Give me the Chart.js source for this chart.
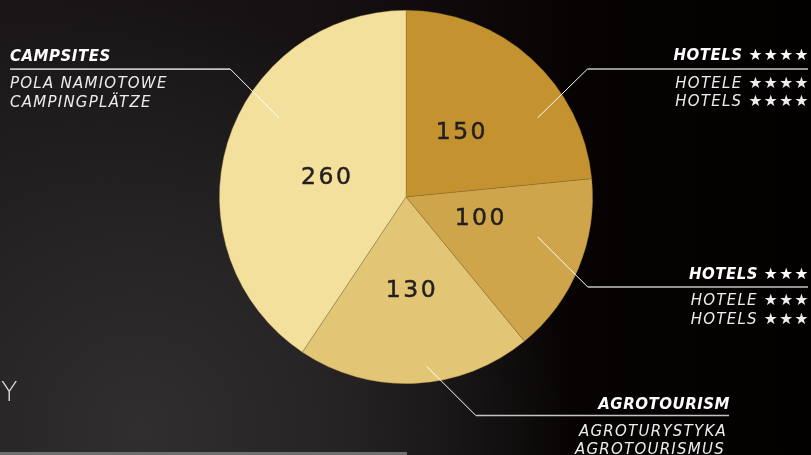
<!DOCTYPE html>
<html><head><meta charset="utf-8">
<script src="https://cdn.jsdelivr.net/npm/chart.js@4.4.0/dist/chart.umd.min.js"></script>
<style>
html,body{margin:0;padding:0;width:811px;height:455px;overflow:hidden;}
body{background:
 radial-gradient(circle at 140px 430px, #302e2f 0px, #272526 170px, rgba(24,20,21,0) 430px),
 linear-gradient(90deg, #1b1718 0%, #151112 40%, #070303 72%, #030000 100%);
 font-family:"DejaVu Sans",sans-serif;}
#wrap{position:relative;width:811px;height:455px;}
canvas{position:absolute;left:0;top:0;}
.lbl{position:absolute;color:#ffffff;font-style:italic;white-space:nowrap;line-height:18px;}
.b{font-weight:bold;font-size:15px;letter-spacing:0.5px;}
.s{font-size:15px;letter-spacing:1.25px;font-weight:normal;color:#ececec;}
.st{font-style:normal;font-size:15.5px;letter-spacing:1.5px;}
.val{position:absolute;color:#231f20;font-size:23.5px;letter-spacing:2.5px;transform:translate(-50%,-50%);white-space:nowrap;-webkit-text-stroke:0.5px #231f20;}
#y{position:absolute;left:1px;top:376px;color:#dcdcdc;font-size:27px;font-weight:200;}
#bl{position:absolute;left:0;top:452px;width:407px;height:3px;background:#6e6e6e;}
</style></head>
<body><div id="wrap">
<canvas id="c" width="811" height="455"></canvas>
<div id="y">Y</div>
<div id="bl"></div>
<div class="lbl b" style="left:10px;top:47px;">CAMPSITES</div>
<div class="lbl s" style="left:10px;top:74px;">POLA NAMIOTOWE</div>
<div class="lbl s" style="left:10px;top:93px;">CAMPINGPLÄTZE</div>

<div class="lbl b" style="right:1px;top:46px;">HOTELS <span class="st">★★★★</span></div>
<div class="lbl s" style="right:1px;top:74px;">HOTELE <span class="st">★★★★</span></div>
<div class="lbl s" style="right:1px;top:92px;">HOTELS <span class="st">★★★★</span></div>

<div class="lbl b" style="right:1px;top:265px;">HOTELS <span class="st">★★★</span></div>
<div class="lbl s" style="right:1px;top:291px;">HOTELE <span class="st">★★★</span></div>
<div class="lbl s" style="right:1px;top:310px;">HOTELS <span class="st">★★★</span></div>

<div class="lbl b" style="right:81px;top:395px;">AGROTOURISM</div>
<div class="lbl s" style="right:84px;top:422px;">AGROTURYSTYKA</div>
<div class="lbl s" style="right:86px;top:440px;">AGROTOURISMUS</div>
</div>
<script>
const categories = ["HOTELS ★★★★", "HOTELS ★★★", "AGROTOURISM", "CAMPSITES"];
const values = [150, 100, 130, 260];
const colors = ["#c4922f", "#cea54b", "#e2c676", "#f4e09d"];
// value label placement: angle (deg from top, clockwise) and radius fraction
const labelAngles = [40.3, 104.9, 176.3, 284.9];
const labelFracs = [0.463, 0.415, 0.493, 0.437];
// leader lines: anchor angle, radius fraction, elbow offset, end x
const leaderAngles = [59, 106.9, 173, 301.9];
const leaderFracs = [0.822, 0.738, 0.915, 0.80];
const leaderDx = [50, 50, 49, -49];
const leaderDy = [-49, 50, 49, -49];
const leaderEndX = [808, 808, 729, 10];

const overlay = {
  id: 'overlay',
  afterDatasetsDraw(chart) {
    const ctx = chart.ctx;
    const meta = chart.getDatasetMeta(0);
    const wrap = document.getElementById('wrap');
    meta.data.forEach((arc, i) => {
      const p = arc.getProps(['x','y','startAngle','endAngle','outerRadius'], true);
      const la = (labelAngles[i] - 90) * Math.PI / 180;
      const r = p.outerRadius * labelFracs[i];
      let el = document.getElementById('v' + i);
      if (!el) { el = document.createElement('div'); el.id = 'v' + i; el.className = 'val'; wrap.appendChild(el); }
      el.textContent = String(values[i]);
      el.style.left = (p.x + Math.cos(la) * r) + 'px';
      el.style.top = (p.y + Math.sin(la) * r) + 'px';
      const a = (leaderAngles[i] - 90) * Math.PI / 180;
      const sx = p.x + Math.cos(a) * p.outerRadius * leaderFracs[i];
      const sy = p.y + Math.sin(a) * p.outerRadius * leaderFracs[i];
      const ex = sx + leaderDx[i], ey = sy + leaderDy[i];
      ctx.save();
      ctx.strokeStyle = '#ffffff';
      ctx.lineWidth = 1;
      ctx.beginPath(); ctx.moveTo(sx, sy); ctx.lineTo(ex, ey); ctx.stroke();
      ctx.strokeStyle = '#c4c4c4';
      ctx.lineWidth = 1.6;
      ctx.beginPath(); ctx.moveTo(ex, ey); ctx.lineTo(leaderEndX[i], ey); ctx.stroke();
      ctx.restore();
    });
  }
};

new Chart(document.getElementById('c'), {
  type: 'pie',
  data: { labels: categories, datasets: [{ data: values, backgroundColor: colors, borderColor: 'rgba(140,105,40,0.55)', borderWidth: 0.7 }] },
  options: {
    responsive: false, animation: false, devicePixelRatio: 1,
    layout: { padding: { top: 10, bottom: 71, left: 1, right: 0 } },
    plugins: { legend: { display: false }, tooltip: { enabled: false } }
  },
  plugins: [overlay]
});
</script>
</body></html>
